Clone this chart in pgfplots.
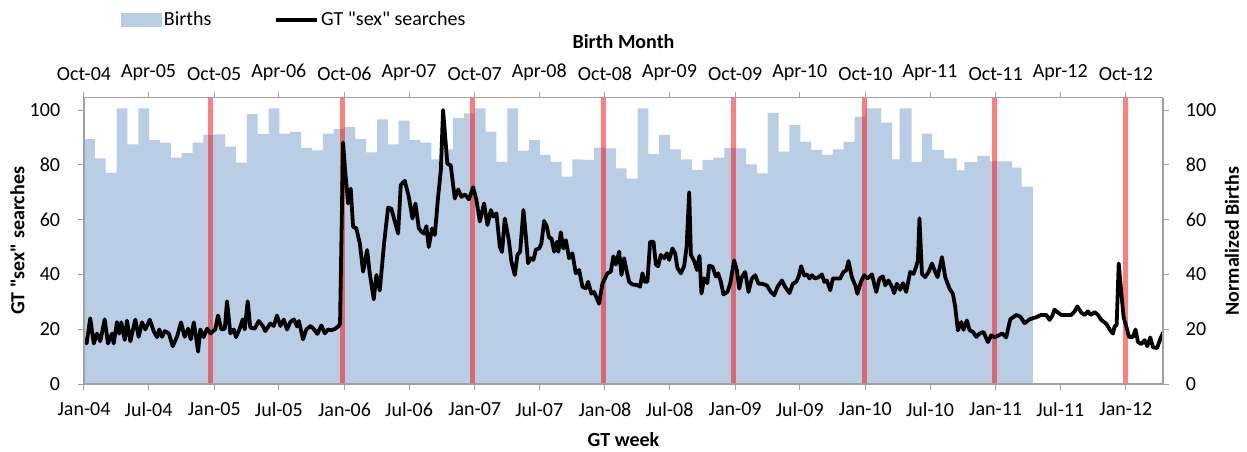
\documentclass[border=0pt]{standalone}
\usepackage{fontspec}
\setmainfont{Carlito}[Ligatures=TeXOff]
\usepackage{pgfplots}
\pgfplotsset{compat=1.18}
\definecolor{birth}{HTML}{B9CDE5}
\definecolor{axgray}{HTML}{A0A0A0}
\begin{document}
\fontsize{20}{24}\selectfont
\begin{tikzpicture}
\path[use as bounding box] (-84pt,-67pt) rectangle (1163pt,384pt);
\begin{axis}[
  at={(0pt,0pt)}, anchor=south west,
  scale only axis, width=1079pt, height=286.3pt,
  xmin=0, xmax=8.285, ymin=0, ymax=104.5,
  axis x line*=bottom, axis y line*=left,
  axis on top,
  axis line style={draw=axgray, line width=1.2pt},
  tick style={draw=axgray, line width=1pt},
  tick align=outside, major tick length=6pt,
  /pgf/number format/assume math mode=true,
  every tick label/.append style={font=\fontsize{20}{24}\selectfont},
  xticklabel style={yshift=-6pt},
  yticklabel style={xshift=-11pt},
  xtick={0,0.496,1,1.496,2,2.496,3,3.496,4,4.496,5,5.496,6,6.496,7,7.496,8},
  xticklabels={Jan-04,Jul-04,Jan-05,Jul-05,Jan-06,Jul-06,Jan-07,Jul-07,Jan-08,Jul-08,Jan-09,Jul-09,Jan-10,Jul-10,Jan-11,Jul-11,Jan-12},
  ytick={0,20,40,60,80,100},
  xlabel={\bfseries GT week},
  ylabel={\bfseries GT "sex" searches},
  xlabel style={at={(axis description cs:0.5,-0.1956)}, anchor=center, font=\fontsize{20}{24}\selectfont},
  ylabel style={at={(axis description cs:-0.0616,0.5)}, anchor=center, font=\fontsize{20}{24}\selectfont},
  legend style={at={(axis description cs:0.034,1.271)}, anchor=west, draw=none, fill=none,
     font=\fontsize{20}{24}\selectfont, inner sep=0pt,
     /tikz/every even column/.append style={column sep=61pt}},
  legend columns=2,
]
% Births (normalized), monthly, plotted at conception week (birth month - 9 months)
\addplot[fill=birth, draw=none, const plot mark left,
  legend image code/.code={\fill[birth] (0pt,-7pt) rectangle (41pt,7pt);}]
coordinates {
(0,89.4) (0.0833,82.4) (0.1667,77.1) (0.25,100.6) (0.3333,87.5) (0.4167,100.6)
(0.5,89) (0.5833,88.1) (0.6667,82.6) (0.75,84.3) (0.8333,88.1) (0.9167,90.9)
(1,91.1) (1.0833,86.6) (1.1667,80.8) (1.25,98.5) (1.3333,91.2) (1.4167,100.6)
(1.5,91.4) (1.5833,92) (1.6667,86.2) (1.75,85.3) (1.8333,91.4) (1.9167,93)
(2,93.8) (2.0833,89.4) (2.1667,84.5) (2.25,96.6) (2.3333,87.5) (2.4167,96.1)
(2.5,89) (2.5833,88.1) (2.6667,82) (2.75,85.6) (2.8333,97) (2.9167,98.8)
(3,100.6) (3.0833,92.1) (3.1667,81.1) (3.25,100.6) (3.3333,85.2) (3.4167,89)
(3.5,83.6) (3.5833,81.1) (3.6667,75.7) (3.75,82) (3.8333,81.8) (3.9167,86.3)
(4,86) (4.0833,78.7) (4.1667,75) (4.25,100.6) (4.3333,83.9) (4.4167,90.9)
(4.5,85.6) (4.5833,82) (4.6667,78.2) (4.75,81.7) (4.8333,82.6) (4.9167,86.2)
(5,86) (5.0833,80.2) (5.1667,76.9) (5.25,99) (5.3333,84.8) (5.4167,94.5)
(5.5,88.4) (5.5833,85.5) (5.6667,83.6) (5.75,85.6) (5.8333,88.4) (5.9167,97.6)
(6,100.6) (6.121,95.4) (6.206,82) (6.263,100.6) (6.355,81.1) (6.436,91.4)
(6.513,85.5) (6.605,82.4) (6.701,78) (6.759,81) (6.859,83.3) (6.956,81.3)
(7.039,81.3) (7.126,79) (7.200,72) (7.285,72)
} \closedcycle;
\addlegendentry{Births}
% late-December markers
\addplot[ycomb, draw=red, opacity=0.5, line width=5pt, forget plot]
coordinates {(0.969,104.5) (1.985,104.5) (2.985,104.5) (3.989,104.5) (4.990,104.5) (5.993,104.5) (6.993,104.5) (7.994,104.5)};
% GT "sex" searches, weekly
\addplot[black, line width=3.8pt, line join=round,
  legend image code/.code={\draw[black, line width=3.8pt] (0pt,0pt) -- (41pt,0pt);}]
coordinates {
(0.002,16.5) (0.020,14.8) (0.048,24) (0.075,14.8) (0.100,18.4) (0.125,15.6)
(0.159,23.6) (0.184,14.8) (0.215,18.4) (0.228,14.8) (0.253,22.6) (0.271,18.4)
(0.286,22.5) (0.313,16.1) (0.330,23.1) (0.356,15.6) (0.394,23.5) (0.420,17.2)
(0.445,22.5) (0.471,19.9) (0.505,23.5) (0.535,19.3) (0.561,17.1) (0.578,19.9)
(0.599,17.2) (0.620,19.3) (0.651,18.5) (0.681,13.8) (0.714,17.2) (0.745,22.5)
(0.773,17.2) (0.799,20.2) (0.820,16.3) (0.843,22.5) (0.860,17.2) (0.876,11.8)
(0.893,19.9) (0.919,17.1) (0.945,20.2) (0.970,18.5) (1.008,19.9) (1.029,25)
(1.055,19.9) (1.081,20.2) (1.098,30.2) (1.124,18.5) (1.150,19.9) (1.167,17.1)
(1.193,19.9) (1.219,23.6) (1.234,19.9) (1.257,30.2) (1.277,20.6) (1.311,20.2)
(1.342,23) (1.373,21.2) (1.392,19.3) (1.431,22.1) (1.457,21.2) (1.482,25)
(1.508,21.2) (1.534,23.5) (1.559,19.9) (1.584,22.6) (1.611,23.6) (1.636,21)
(1.650,23) (1.682,16.3) (1.707,19.9) (1.741,21.2) (1.767,19.9) (1.792,18.3)
(1.823,21.4) (1.849,18.5) (1.874,19.9) (1.899,19.6) (1.930,20.2) (1.956,21.2)
(1.966,22) (1.989,88.1) (2.005,78) (2.028,65.9) (2.048,71.3) (2.066,57.4)
(2.091,56.8) (2.118,51.3) (2.143,41) (2.174,48.9) (2.194,40.4) (2.225,30.9)
(2.245,39.8) (2.271,34.1) (2.304,51.3) (2.335,64.4) (2.360,64) (2.412,54.9)
(2.432,72.6) (2.463,74.2) (2.494,68.3) (2.522,60.4) (2.545,65.9) (2.571,56.8)
(2.591,55.6) (2.611,54.9) (2.629,57.6) (2.647,50) (2.673,56.8) (2.694,54.4)
(2.719,68.3) (2.740,78) (2.757,100) (2.790,80.4) (2.816,79.8) (2.847,67.7)
(2.873,71) (2.898,68.3) (2.924,69.2) (2.955,67.4) (2.988,71.8) (3.013,67.2)
(3.039,59.3) (3.072,65.9) (3.098,58) (3.124,63.5) (3.141,61.1) (3.167,62.3)
(3.193,50) (3.210,48.2) (3.231,60.4) (3.262,52.5) (3.282,44.6) (3.308,39.8)
(3.328,47.1) (3.349,48.3) (3.374,63.5) (3.392,54.4) (3.410,44.1) (3.431,45.9)
(3.451,45.3) (3.469,49) (3.495,49.5) (3.512,51.3) (3.533,59.5) (3.554,57.4)
(3.571,53.4) (3.589,53.2) (3.610,48.3) (3.631,51.9) (3.643,48.3) (3.661,55.4)
(3.681,49.5) (3.700,52.5) (3.725,45.9) (3.750,47.7) (3.776,40.4) (3.802,41.6)
(3.827,35.5) (3.853,34.9) (3.871,37.3) (3.896,33) (3.917,33.6) (3.955,29.3)
(3.981,36.7) (4.019,40.4) (4.045,41) (4.065,46.6) (4.084,43.6) (4.109,48.3)
(4.127,39.8) (4.147,45.9) (4.168,41) (4.186,37.3) (4.211,36.3) (4.250,36.1)
(4.270,35.5) (4.288,40.4) (4.306,37.3) (4.326,37.3) (4.347,51.9) (4.373,51.9)
(4.391,43.6) (4.409,43) (4.429,47.1) (4.455,45.9) (4.476,47.7) (4.493,45.3)
(4.518,49.5) (4.539,47.7) (4.557,42.3) (4.583,40.4) (4.608,43) (4.627,50)
(4.647,70) (4.660,47.1) (4.685,44.9) (4.706,41.6) (4.726,46.8) (4.741,33)
(4.762,38.6) (4.786,36.8) (4.800,43.2) (4.826,42.8) (4.852,39.2) (4.869,40.4)
(4.890,37.3) (4.910,32.7) (4.941,33.6) (4.962,36.7) (4.992,45.1) (5.013,41.5)
(5.031,34.8) (5.051,39) (5.077,40.9) (5.102,33.6) (5.128,38.5) (5.154,39.7)
(5.179,36.6) (5.205,36.6) (5.243,36) (5.274,33.6) (5.300,32.4) (5.325,35.4)
(5.359,37.8) (5.384,35.4) (5.417,33.2) (5.443,36.6) (5.469,37.3) (5.486,39)
(5.507,43) (5.530,39.6) (5.551,40) (5.571,38.5) (5.589,39.7) (5.614,38.5)
(5.640,39) (5.666,40) (5.684,37.3) (5.704,37.8) (5.730,34.2) (5.750,38.5)
(5.776,38.5) (5.806,38.5) (5.832,40.9) (5.853,41.5) (5.870,44.9) (5.896,39)
(5.922,36) (5.939,32.9) (5.965,37.3) (5.991,39.7) (6.016,38.5) (6.050,40)
(6.083,33.6) (6.108,38.5) (6.134,39.3) (6.152,36) (6.177,37.8) (6.204,35.4)
(6.221,33.2) (6.242,36.6) (6.267,34.4) (6.288,36.8) (6.313,33.6) (6.344,40.9)
(6.370,40.2) (6.390,42.9) (6.403,45) (6.415,60.5) (6.434,40.2) (6.459,39)
(6.485,40.9) (6.511,44) (6.536,40.9) (6.554,39) (6.588,46.3) (6.613,39)
(6.646,34.8) (6.672,32.9) (6.690,28) (6.710,19.6) (6.736,22.6) (6.753,19.8)
(6.779,23.2) (6.800,19.6) (6.826,19) (6.851,17.2) (6.876,18.4) (6.907,19)
(6.941,15.3) (6.966,17.8) (6.992,17) (7.025,17.8) (7.051,18.4) (7.081,17)
(7.112,23.6) (7.158,25.2) (7.189,24.6) (7.222,22.2) (7.260,23.6) (7.312,24.4)
(7.350,25.2) (7.389,25.2) (7.414,23.4) (7.435,24.9) (7.452,27.1) (7.478,26.1)
(7.504,25.2) (7.581,25.2) (7.606,26.5) (7.627,28.3) (7.657,26.1) (7.683,25.2)
(7.708,26.5) (7.729,25.2) (7.760,26.2) (7.786,25.2) (7.811,23.4) (7.849,22)
(7.880,19.6) (7.901,18.4) (7.913,21) (7.929,21.5) (7.945,44) (7.963,34.4)
(7.982,24.6) (8.003,21) (8.024,17.2) (8.054,17.2) (8.074,19.9) (8.093,15.3)
(8.118,14.6) (8.144,16) (8.164,13.8) (8.187,17) (8.208,13.4) (8.239,13.1)
(8.264,16.4) (8.287,18.9)
};
\addlegendentry{GT "sex" searches}
\end{axis}
\begin{axis}[
  at={(0pt,0pt)}, anchor=south west,
  scale only axis, width=1079pt, height=286.3pt,
  xmin=0, xmax=8.285, ymin=0, ymax=104.5,
  axis x line*=top, axis y line*=right,
  axis line style={draw=axgray, line width=1.2pt},
  tick style={draw=axgray, line width=1pt},
  tick align=outside, major tick length=6pt,
  /pgf/number format/assume math mode=true,
  every tick label/.append style={font=\fontsize{20}{24}\selectfont},
  xticklabel style={yshift=4pt},
  yticklabel style={xshift=10pt},
  xtick={0,0.496,1,1.496,2,2.496,3,3.496,4,4.496,5,5.496,6,6.496,7,7.496,8},
  xticklabels={Oct-04,Apr-05,Oct-05,Apr-06,Oct-06,Apr-07,Oct-07,Apr-08,Oct-08,Apr-09,Oct-09,Apr-10,Oct-10,Apr-11,Oct-11,Apr-12,Oct-12},
  ytick={0,20,40,60,80,100},
  xlabel={\bfseries Birth Month},
  ylabel={\bfseries Normalized Births},
  xlabel style={at={(axis description cs:0.5,1.1946)}, anchor=center, font=\fontsize{20}{24}\selectfont},
  ylabel style={at={(axis description cs:1.0639,0.5)}, anchor=center, font=\fontsize{20}{24}\selectfont},
]
\end{axis}
\end{tikzpicture}
\end{document}
